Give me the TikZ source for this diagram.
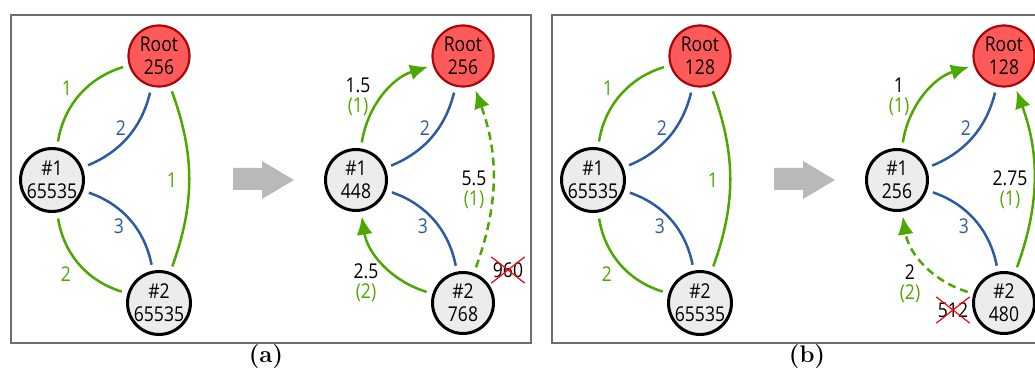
\documentclass[tikz,border=0pt]{standalone}
\usepackage{fontspec}
\setsansfont{Open Sans}[FakeStretch=0.86]
\usetikzlibrary{arrows.meta,shapes.misc,positioning}

\definecolor{edgegreen}{RGB}{76,168,0}
\definecolor{edgeblue}{RGB}{44,92,160}
\definecolor{rootfill}{RGB}{255,90,90}
\definecolor{rootline}{RGB}{168,8,8}
\definecolor{nodefill}{RGB}{236,236,236}
\definecolor{framegray}{RGB}{110,110,110}
\definecolor{arrowgray}{RGB}{185,185,185}

\tikzset{
  vertex/.style={circle, draw=black, line width=1.5pt, fill=nodefill,
                 minimum size=30.5pt, inner sep=0pt, align=center,
                 font=\sffamily\fontsize{10.2}{11.6}\selectfont},
  rootvertex/.style={vertex, draw=rootline, line width=1.1pt, fill=rootfill},
  link/.style={line width=1.25pt, shorten <=3pt, shorten >=3pt},
  glink/.style={link, edgegreen},
  blink/.style={link, edgeblue},
  route/.style={glink, shorten >=2.5pt, -{Latex[length=9pt,width=8pt]}},
  cost/.style={font=\sffamily\fontsize{10.2}{9.8}\selectfont, inner sep=1pt, align=center},
  dropped/.style={cost, cross out, draw=red, line width=0.6pt, inner xsep=0.5pt, inner ysep=2.5pt},
  panel/.style={draw=framegray, line width=1pt},
  caption/.style={font=\rmfamily\bfseries\fontsize{12}{14}\selectfont}
}

\begin{document}
\begin{tikzpicture}[x=0.5pt,y=0.5pt]

\clip (0,0) rectangle (1035,-369);

% Frames and captions
\draw[panel] (11,-15) rectangle (531,-343);
\draw[panel] (552,-15) rectangle (1072,-343);
\node[caption] (capA) at (266,-357) {(a)};
\node[caption] (capB) at (807,-357) {(b)};

% Block arrows
\fill[arrowgray] (233,-168) -- (262,-168) -- (262,-161) -- (294,-180) -- (262,-199) -- (262,-190) -- (233,-190) -- cycle;
\fill[arrowgray] (774,-168) -- (803,-168) -- (803,-161) -- (835,-180) -- (803,-199) -- (803,-190) -- (774,-190) -- cycle;

% (a) before
\node[rootvertex] (aR) at (159,-56) {Root\\256};
\node[vertex] (a1) at (52,-180) {\#1\\65535};
\node[vertex] (a2) at (159,-303) {\#2\\65535};

\draw[glink] (aR) to[bend right=32] (a1);
\draw[blink] (aR) to[bend left=27] (a1);
\draw[glink] (aR) to[bend left=20] (a2);
\draw[blink] (a1) to[bend left=30] (a2);
\draw[glink] (a1) to[bend right=32] (a2);

\node[cost, edgegreen] (aw1) at (67,-88) {1};
\node[cost, edgeblue] (aw2) at (121,-128) {2};
\node[cost, edgegreen] (aw3) at (172,-180) {1};
\node[cost, edgeblue] (aw4) at (119,-226) {3};
\node[cost, edgegreen] (aw5) at (66,-274) {2};

% (a) after
\node[rootvertex] (aRx) at (463,-56) {Root\\256};
\node[vertex] (a1x) at (356,-180) {\#1\\448};
\node[vertex] (a2x) at (463,-303) {\#2\\768};

\draw[route] (a1x) to[bend left=32] (aRx);
\draw[blink] (aRx) to[bend left=27] (a1x);
\draw[route, dash pattern=on 4pt off 2.5pt] (a2x) to[bend right=20] (aRx);
\draw[blink] (a1x) to[bend left=30] (a2x);
\draw[route] (a2x) to[bend left=32] (a1x);

\node[cost] (ac1) at (358,-97) {1.5\\\textcolor{edgegreen}{(1)}};
\node[cost, edgeblue] (ac2) at (425,-128) {2};
\node[cost] (ac3) at (474,-190) {5.5\\\textcolor{edgegreen}{(1)}};
\node[cost, edgeblue] (ac4) at (423,-226) {3};
\node[cost] (ac5) at (366,-283) {2.5\\\textcolor{edgegreen}{(2)}};
\node[dropped] (aold) at (508,-270) {960};

% (b) before
\node[rootvertex] (bR) at (700,-56) {Root\\128};
\node[vertex] (b1) at (593,-180) {\#1\\65535};
\node[vertex] (b2) at (700,-303) {\#2\\65535};

\draw[glink] (bR) to[bend right=32] (b1);
\draw[blink] (bR) to[bend left=27] (b1);
\draw[glink] (bR) to[bend left=20] (b2);
\draw[blink] (b1) to[bend left=30] (b2);
\draw[glink] (b1) to[bend right=32] (b2);

\node[cost, edgegreen] (bw1) at (608,-88) {1};
\node[cost, edgeblue] (bw2) at (662,-128) {2};
\node[cost, edgegreen] (bw3) at (713,-180) {1};
\node[cost, edgeblue] (bw4) at (660,-226) {3};
\node[cost, edgegreen] (bw5) at (607,-274) {2};

% (b) after
\node[rootvertex] (bRx) at (1004,-56) {Root\\128};
\node[vertex] (b1x) at (897,-180) {\#1\\256};
\node[vertex] (b2x) at (1004,-303) {\#2\\480};

\draw[route] (b1x) to[bend left=32] (bRx);
\draw[blink] (bRx) to[bend left=27] (b1x);
\draw[route] (b2x) to[bend right=20] (bRx);
\draw[blink] (b1x) to[bend left=30] (b2x);
\draw[route, dash pattern=on 4pt off 2.5pt] (b2x) to[bend left=32] (b1x);

\node[cost] (bc1) at (899,-97) {1\\\textcolor{edgegreen}{(1)}};
\node[cost, edgeblue] (bc2) at (966,-128) {2};
\node[cost] (bc3) at (1010,-190) {2.75\\\textcolor{edgegreen}{(1)}};
\node[cost, edgeblue] (bc4) at (964,-226) {3};
\node[cost] (bc5) at (910,-284) {2\\\textcolor{edgegreen}{(2)}};
\node[dropped] (bold) at (953,-310) {512};

\end{tikzpicture}
\end{document}
